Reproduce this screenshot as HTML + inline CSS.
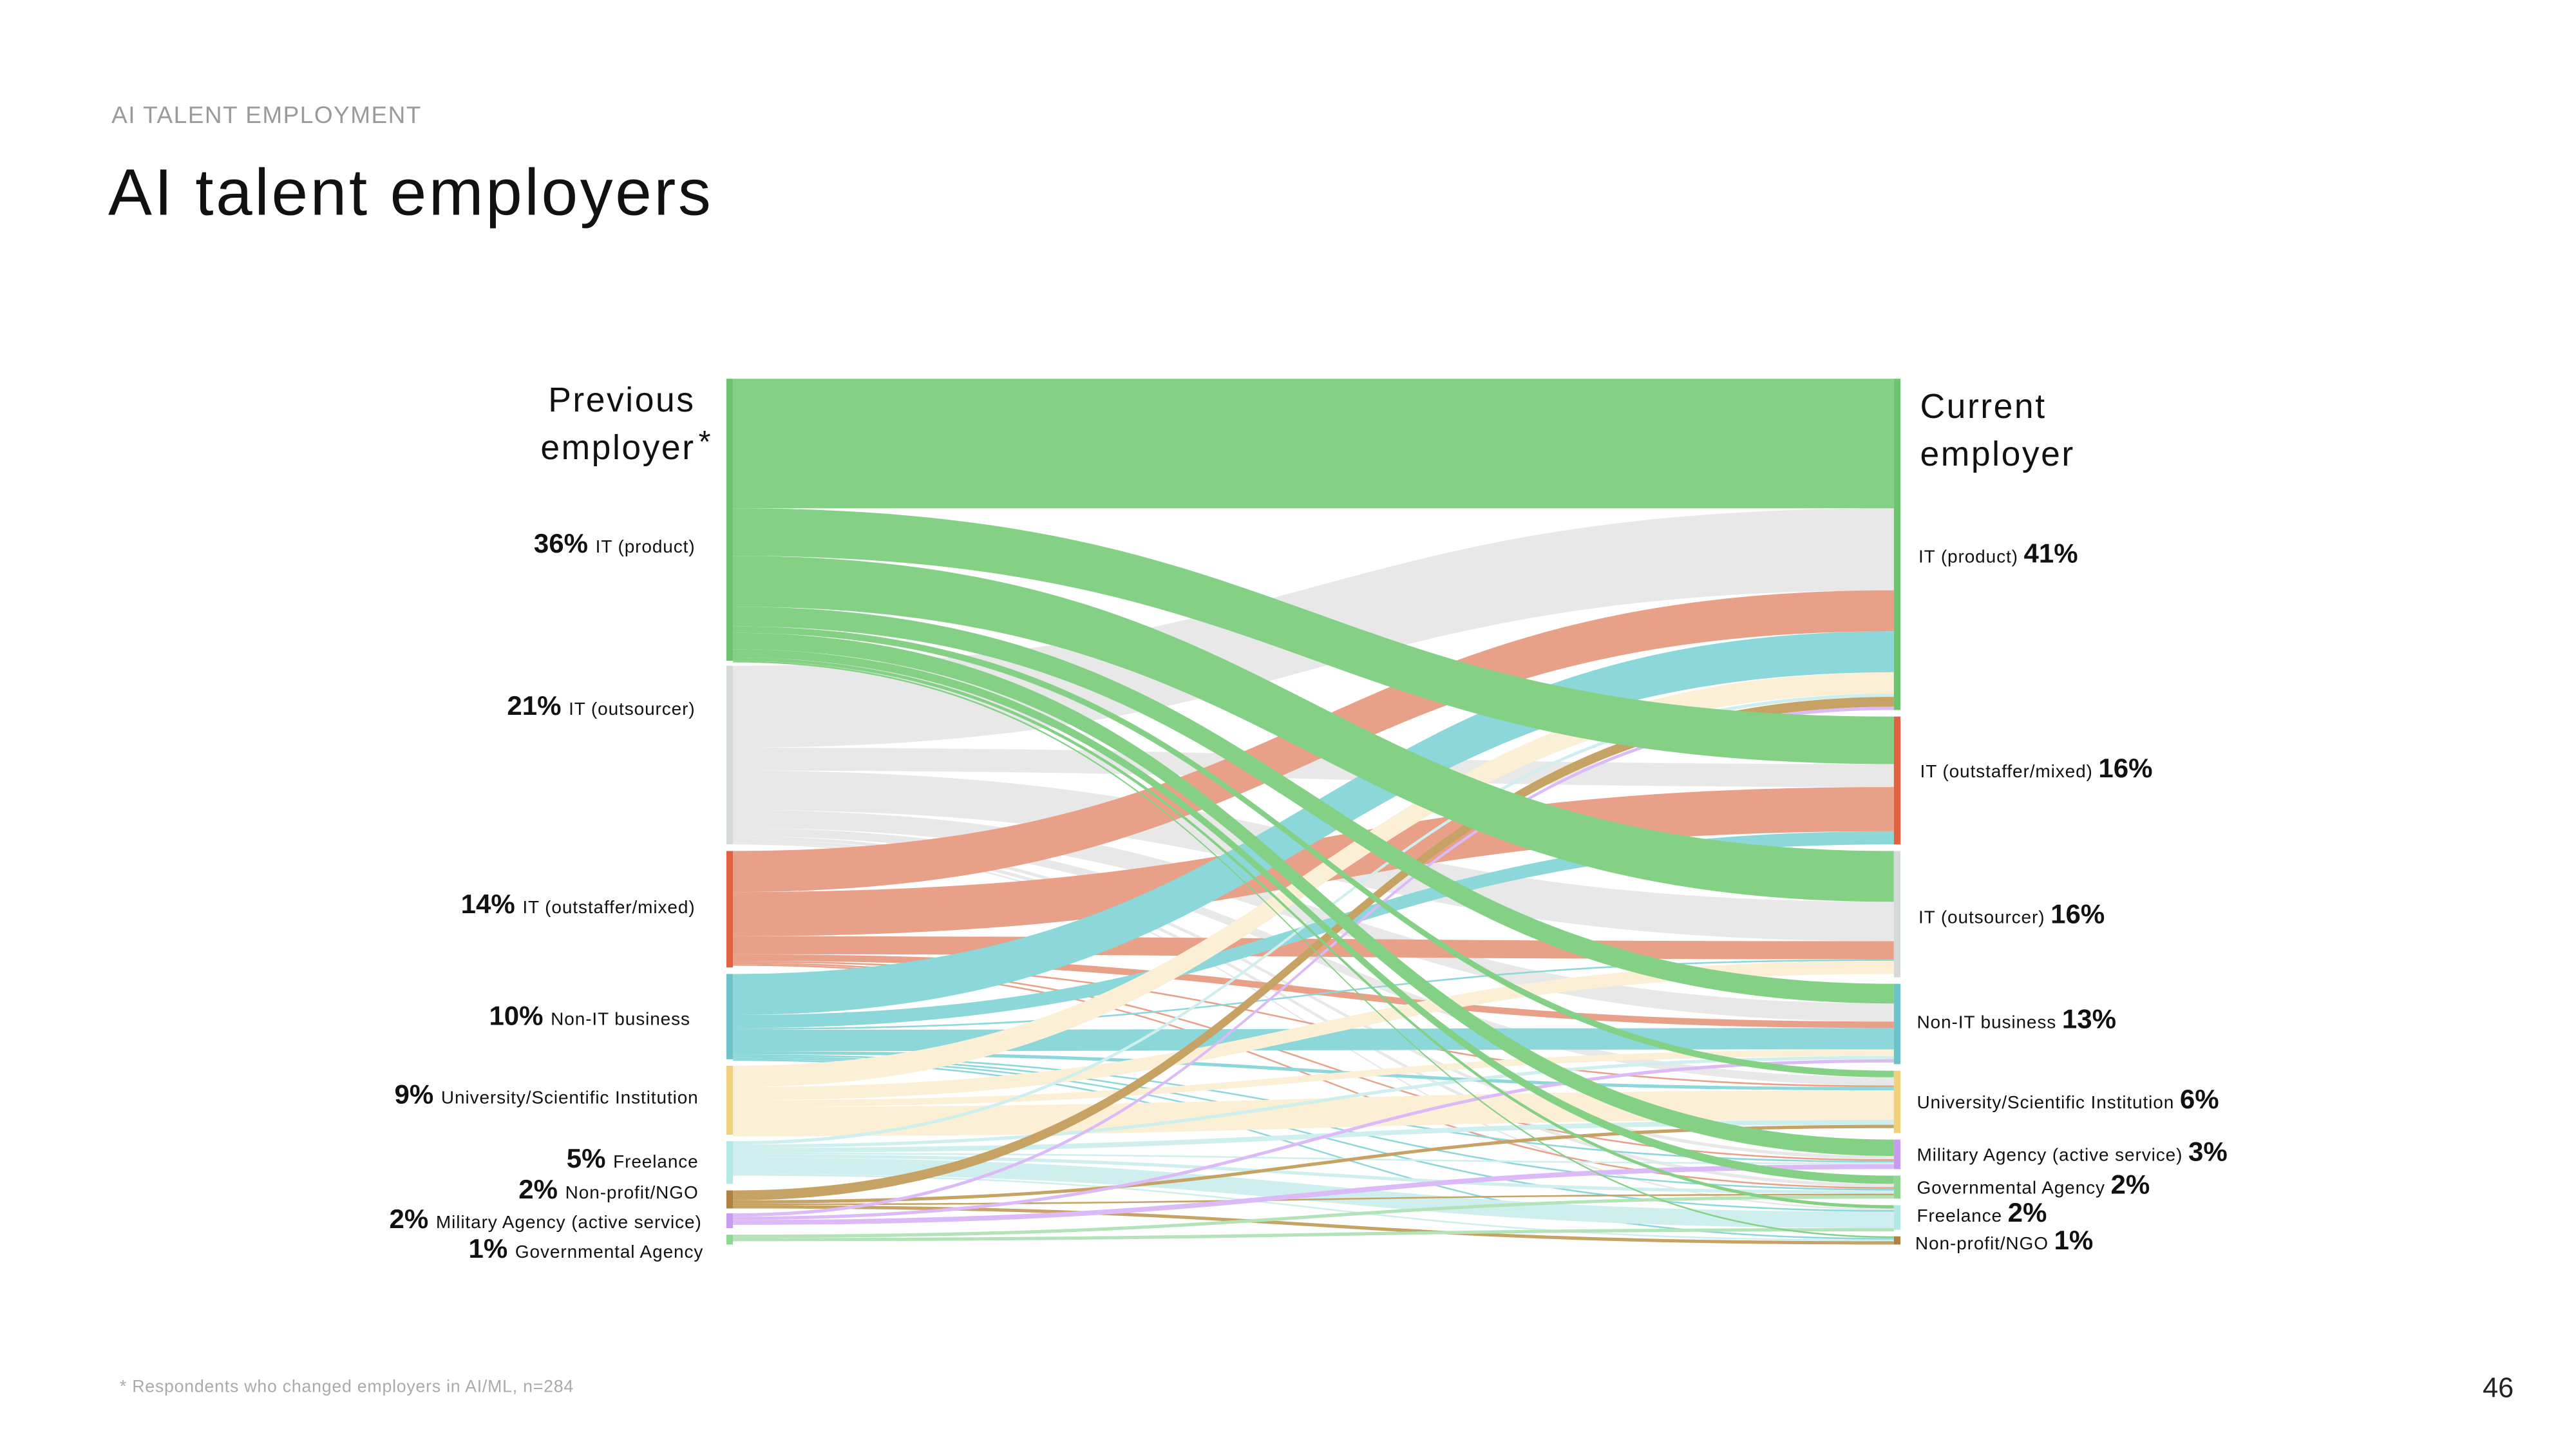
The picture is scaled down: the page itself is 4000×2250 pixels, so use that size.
<!DOCTYPE html>
<html><head><meta charset="utf-8"><style>
html,body{margin:0;padding:0;background:#fff;}
svg{display:block;}
text{font-family:"Liberation Sans",sans-serif;}
</style></head><body>
<svg id="s" width="4000" height="2250" viewBox="0 0 1571 883.7" preserveAspectRatio="none" xmlns="http://www.w3.org/2000/svg">
<text x="68" y="75" font-size="14.5" fill="#9a9a9a" letter-spacing="0.6">AI TALENT EMPLOYMENT</text>
<text x="66" y="131" font-size="40" fill="#111" letter-spacing="1.4">AI talent employers</text>
<text x="73" y="849" font-size="10.5" fill="#aaa" letter-spacing="0.3">* Respondents who changed employers in AI/ML, n=284</text>
<text x="1533" y="852" font-size="17" fill="#222" text-anchor="end">46</text>
<g id="flows"></g>
<g id="nodes"></g>
<g font-size="21" fill="#111" letter-spacing="1">
<text x="424" y="251" text-anchor="end">Previous</text>
<text x="424" y="280" text-anchor="end">employer</text><text x="426" y="276" font-size="19">*</text>
<text x="1171" y="255">Current</text>
<text x="1171" y="284">employer</text>
</g>
<g font-size="11" fill="#111" text-anchor="end" id="ll"></g>
<g font-size="11" fill="#111" id="rl"></g>
</svg>
<script>
var NS="http://www.w3.org/2000/svg";
var L={p:[231,403],o:[406,515],s:[519,590],n:[594,646],u:[650,692],f:[696,722],g:[726,737],m:[740,749],v:[753,759]};
var R={p:[231,433],s:[437,515],o:[519,596],n:[600,649],u:[653,691],m:[695,713],v:[717,731],f:[735,750],g:[754,759]};
var col={p:"#84d186",o:"#e8e8e8",s:"#e8a088",n:"#8bd7da",u:"#fbefd6",f:"#ceefed",g:"#c6a364",m:"#dcbaf7",v:"#b2e3b9"};
var lstripe={p:"#6cc46e",o:"#d6d9d9",s:"#e0603f",n:"#6cc4c8",u:"#f2cf7a",f:"#b4e6e4",g:"#b08040",m:"#c89af0",v:"#8fd694"};
var srcOrder="posnufgmv".split(""),tgtOrder="psonumvfg".split("");
var F=[
["p","p",79],["p","s",29],["p","o",31],["p","n",12],["p","u",4],["p","m",10],["p","v",5],["p","f",2],["p","g",1],
["o","p",50],["o","s",14],["o","o",24],["o","n",11],["o","u",5],["o","m",2],["o","v",2],["o","f",1],
["s","p",25],["s","s",27],["s","o",11],["s","n",4],["s","u",1],["s","m",1],["s","v",1],
["n","p",25],["n","s",8],["n","o",1],["n","n",13],["n","u",2],["n","m",1],["n","v",1],["n","f",1],["n","g",1],
["u","p",13],["u","o",8],["u","n",4],["u","u",18],
["f","p",2],["f","n",2],["f","u",3],["f","m",1],["f","v",2],["f","f",10],["f","g",1],
["g","p",6],["g","u",2],["g","v",1],["g","g",2],
["m","p",2],["m","n",2],["m","m",3],
["v","v",2],["v","f",2]];
var ly={},ry={};srcOrder.forEach(function(k){ly[k]=L[k][0];});tgtOrder.forEach(function(k){ry[k]=R[k][0];});
var pos=[];
srcOrder.forEach(function(s){tgtOrder.forEach(function(t){F.forEach(function(f,i){if(f[0]==s&&f[1]==t){pos[i]={y0:ly[s]};ly[s]+=f[2];}});});});
tgtOrder.forEach(function(t){srcOrder.forEach(function(s){F.forEach(function(f,i){if(f[0]==s&&f[1]==t){pos[i].y1=ry[t];ry[t]+=f[2];}});});});
var g=document.getElementById("flows");
var x0=447,x1=1155,xm=(x0+x1)/2;
var drawOrder="osnufgmvp".split("");
drawOrder.forEach(function(s){F.forEach(function(f,i){if(f[0]!=s)return;var a=pos[i].y0,b=pos[i].y1,w=f[2];
var d="M"+x0+","+a+" C"+xm+","+a+" "+xm+","+b+" "+x1+","+b+" L"+x1+","+(b+w)+" C"+xm+","+(b+w)+" "+xm+","+(a+w)+" "+x0+","+(a+w)+"Z";
var p=document.createElementNS(NS,"path");p.setAttribute("d",d);p.setAttribute("fill",col[s]);g.appendChild(p);});});
var n=document.getElementById("nodes");
function rect(x,y,w,h,c){var r=document.createElementNS(NS,"rect");r.setAttribute("x",x);r.setAttribute("y",y);r.setAttribute("width",w);r.setAttribute("height",h);r.setAttribute("fill",c);n.appendChild(r);}
for(var k in L){rect(443,L[k][0],4,L[k][1]-L[k][0],lstripe[k]);}
for(var k in R){rect(1155,R[k][0],4,R[k][1]-R[k][0],lstripe[k]);}
function lab(gid,x,y,parts){var t=document.createElementNS(NS,"text");t.setAttribute("x",x);t.setAttribute("y",y);
parts.forEach(function(p){var s=document.createElementNS(NS,"tspan");s.textContent=p[0];if(p[1]){s.setAttribute("font-size","16.5");s.setAttribute("font-weight","bold");}else{s.setAttribute("letter-spacing","0.35");}t.appendChild(s);});
t.setAttribute("xml:space","preserve");document.getElementById(gid).appendChild(t);}
[[424,337,"36%","IT (product)"],[424,436,"21%","IT (outsourcer)"],[424,557,"14%","IT (outstaffer/mixed)"],[421,625,"10%","Non-IT business"],
[426,673,"9%","University/Scientific Institution"],[426,712,"5%","Freelance"],[426,731,"2%","Non-profit/NGO"],[428,749,"2%","Military Agency (active service)"],[429,767,"1%","Governmental Agency"]].forEach(function(a){lab("ll",a[0],a[1],[[a[2]+"  ",1],[a[3],0]]);});
[[1170,343,"IT (product)","41%"],[1171,474,"IT (outstaffer/mixed)","16%"],[1170,563,"IT (outsourcer)","16%"],[1169,627,"Non-IT business","13%"],
[1169,676,"University/Scientific Institution","6%"],[1169,708,"Military Agency (active service)","3%"],[1169,728,"Governmental Agency","2%"],[1169,745,"Freelance","2%"],[1168,762,"Non-profit/NGO","1%"]].forEach(function(a){lab("rl",a[0],a[1],[[a[2]+"  ",0],[a[3],1]]);});
</script>
</body></html>
